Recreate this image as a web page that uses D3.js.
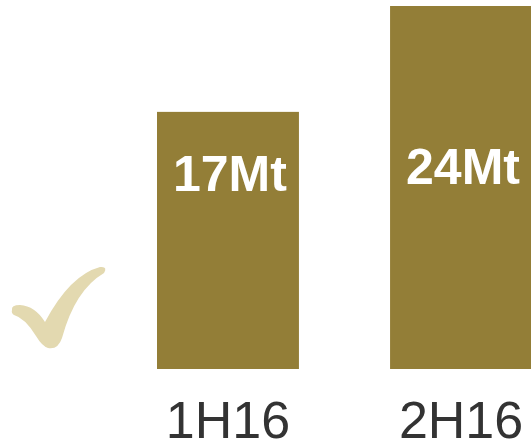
<!DOCTYPE html>
<html>
<head>
<meta charset="utf-8">
<script src="https://cdn.jsdelivr.net/npm/d3@7"></script>
<style>
  body { margin: 0; background: #fff; }
  svg { display: block; }
</style>
</head>
<body>
<div class="canvas"></div>
<script>
const width = 531;
const height = 445;

// Data
const categories = ["1H16", "2H16"];
const values = [17, 24];
const valueLabels = ["17Mt", "24Mt"];

const barColor = "#937e37";
const tickColor = "#333333";
const checkColor = "#e3d9b0";

// Scales
const xScale = d3
  .scaleBand()
  .domain(categories)
  .range([157, 532])
  .paddingInner(0.391)
  .paddingOuter(0);

const yScale = d3
  .scaleLinear()
  .domain([0, 24])
  .range([369, 6]);

const svg = d3
  .select(".canvas")
  .append("svg")
  .attr("width", width)
  .attr("height", height);

// Check mark on the left
svg
  .append("path")
  .attr("d",
    "M12 310 Q11 305 20 305 Q35 306 45 322 Q70 275 100 267 Q108 266 104 273 " +
    "Q75 290 62 338 Q58 350 48 348 Q42 346 36 336 Q25 318 14 315 Q11 313 12 310 Z")
  .attr("fill", checkColor);

// Bars
svg
  .selectAll("rect.bar")
  .data(values)
  .enter()
  .append("rect")
  .attr("class", "bar")
  .attr("x", (d, i) => xScale(categories[i]))
  .attr("y", d => yScale(d))
  .attr("width", xScale.bandwidth())
  .attr("height", d => yScale(0) - yScale(d))
  .attr("fill", barColor);

// Value labels inside bars
const labelBaseline = [191, 184];
svg
  .selectAll("text.value")
  .data(valueLabels)
  .enter()
  .append("text")
  .attr("class", "value")
  .attr("x", (d, i) => xScale(categories[i]) + xScale.bandwidth() / 2 + 2)
  .attr("y", (d, i) => labelBaseline[i])
  .attr("text-anchor", "middle")
  .attr("font-family", "'Liberation Sans', Arial, sans-serif")
  .attr("font-weight", "bold")
  .attr("font-size", 50)
  .attr("fill", "#ffffff")
  .text(d => d);

// Category labels
const xAxis = d3.axisBottom(xScale).tickSize(0).tickPadding(0);
const axisG = svg
  .append("g")
  .attr("transform", "translate(0,400)")
  .call(xAxis);
axisG.select(".domain").remove();
axisG
  .selectAll("text")
  .attr("dy", 0)
  .attr("y", 38)
  .attr("font-family", "'Liberation Sans', Arial, sans-serif")
  .attr("font-size", 52)
  .attr("fill", tickColor);
</script>
</body>
</html>
